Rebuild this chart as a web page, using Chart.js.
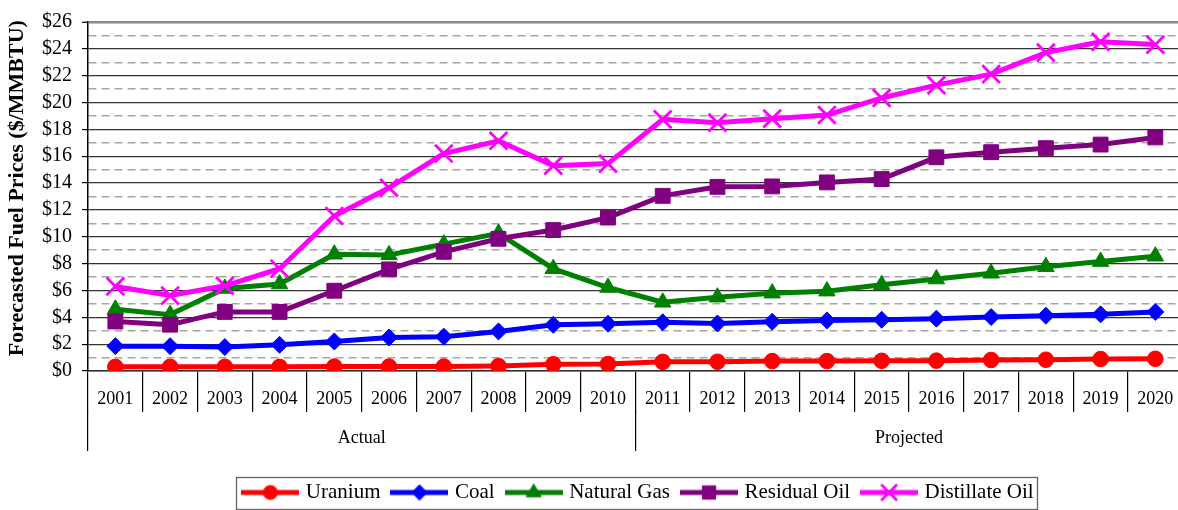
<!DOCTYPE html>
<html><head><meta charset="utf-8">
<script src="https://cdn.jsdelivr.net/npm/chart.js@4.4.1/dist/chart.umd.min.js"></script>
<style>html,body{margin:0;padding:0;overflow:hidden;background:#fff}#wrap{width:1198px;height:510px}</style>
</head><body><div id="wrap"><canvas id="c" width="1198" height="510"></canvas></div>
<script>
const years = ['2001','2002','2003','2004','2005','2006','2007','2008','2009','2010','2011','2012','2013','2014','2015','2016','2017','2018','2019','2020'];
const groups = ['Actual','Projected'];
const seriesNames = ['Uranium','Coal','Natural Gas','Residual Oil','Distillate Oil'];
const uranium = [0.31,0.31,0.31,0.31,0.33,0.33,0.33,0.37,0.50,0.52,0.68,0.69,0.74,0.74,0.76,0.77,0.82,0.84,0.89,0.91];
const coal = [1.85,1.85,1.78,1.95,2.20,2.50,2.56,2.95,3.44,3.52,3.63,3.54,3.67,3.77,3.82,3.90,4.02,4.12,4.22,4.40];
const naturalGas = [4.60,4.20,6.15,6.48,8.70,8.65,9.45,10.25,7.62,6.22,5.12,5.50,5.80,5.95,6.42,6.85,7.28,7.77,8.15,8.55];
const residualOil = [3.69,3.45,4.40,4.40,5.98,7.57,8.88,9.85,10.50,11.43,13.05,13.72,13.75,14.05,14.30,15.92,16.30,16.60,16.87,17.40];
const distillateOil = [6.30,5.62,6.35,7.62,11.55,13.65,16.20,17.15,15.30,15.45,18.75,18.50,18.80,19.07,20.34,21.30,22.12,23.72,24.52,24.32];
const yTitle = '   Forecasted Fuel Prices ($/MMBTU)';

const FONT = "'Liberation Serif','Times New Roman','DejaVu Serif',serif";
const colors = ['#FF0000','#0000FF','#008000','#800080','#FF00FF'];
const styles = ['circle','rectRot','triangle','rect','crossRot'];
const radii = [7.8,8.5,9.5,10.5,12.5];
const pbw = [1,1,1,1,2.8];
const values = [uranium, coal, naturalGas, residualOil, distillateOil];

function makeSwatch(i){
  const cv = document.createElement('canvas');
  cv.width = 58; cv.height = 26;
  const g = cv.getContext('2d');
  g.strokeStyle = colors[i]; g.fillStyle = colors[i];
  g.lineWidth = 5;
  g.beginPath(); g.moveTo(0,13); g.lineTo(58,13); g.stroke();
  g.lineWidth = pbw[i];
  if (Chart.helpers && Chart.helpers.drawPoint) {
    Chart.helpers.drawPoint(g, {pointStyle: styles[i], radius: radii[i]*0.9, borderWidth: pbw[i], rotation: 0}, 29, 13);
  }
  return cv;
}
const swatches = seriesNames.map((n,i)=>makeSwatch(i));

const datasets = seriesNames.map((name,i)=>({
  label: name,
  data: values[i],
  borderColor: colors[i],
  backgroundColor: colors[i],
  pointBackgroundColor: colors[i],
  pointBorderColor: colors[i],
  borderWidth: 5,
  pointStyle: styles[i],
  pointRadius: radii[i],
  pointBorderWidth: pbw[i],
  tension: 0,
  order: 4 - i,
  xAxisID: 'x', yAxisID: 'y'
}));

const SHIFT_X = 44, SHIFT_Y = 3;
const legendTweak = {
  id: 'legendTweak',
  afterUpdate(chart){
    const lg = chart.legend; if (!lg) return;
    lg.left += SHIFT_X; lg.right += SHIFT_X; lg.top += SHIFT_Y; lg.bottom += SHIFT_Y;
  },
  afterDraw(chart){
    const lg = chart.legend; if (!lg || !lg.lineWidths) return;
    const pad = lg.options.labels.padding;
    const content = lg.lineWidths[0] - pad;
    const left0 = (lg.left + pad + lg.right - lg.lineWidths[0]) / 2;
    const rowY = lg.top + pad;
    const ctx = chart.ctx;
    ctx.save();
    ctx.strokeStyle = '#666'; ctx.lineWidth = 1.3;
    ctx.strokeRect(Math.round(left0 - 9)+0.5, Math.round(rowY - 5)+0.5, Math.round(content + 13), Math.round(32));
    ctx.restore();
  }
};

new Chart(document.getElementById('c'), {
  type: 'line',
  data: { labels: years, datasets },
  plugins: [legendTweak],
  options: {
    responsive: false,
    animation: false,
    events: [],
    layout: { padding: { top: 16, right: 7, left: 0, bottom: 0 } },
    plugins: {
      tooltip: { enabled: false },
      legend: {
        position: 'bottom', align: 'center',
        labels: {
          usePointStyle: true, pointStyleWidth: 50, padding: 14,
          font: { family: FONT, size: 21 }, color: '#000',
          generateLabels: (chart) => chart.data.datasets.map((d,i)=>({
            text: d.label, pointStyle: swatches[i], fillStyle: d.backgroundColor,
            strokeStyle: d.borderColor, lineWidth: 0, hidden: false, datasetIndex: i, fontColor: '#000'
          }))
        }
      }
    },
    scales: {
      x: {
        type: 'category', position: 'bottom', offset: true, weight: 0,
        afterFit: s => { s.height = 40; },
        grid: { offset: true, drawOnChartArea: false, drawTicks: true, tickLength: 41, color: '#000', lineWidth: 1.2 },
        border: { display: true, color: '#333', width: 1.5 },
        ticks: { padding: -24, autoSkip: false, maxRotation: 0, font: { family: FONT, size: 18 }, color: '#000' }
      },
      x2: {
        type: 'category', labels: groups, position: 'bottom', offset: true, weight: 1, display: true,
        afterFit: s => { s.height = 54; },
        grid: { offset: true, drawOnChartArea: false, drawTicks: true, tickLength: 40, color: '#000', lineWidth: 1.2 },
        border: { display: false },
        ticks: { padding: -24, autoSkip: false, maxRotation: 0, font: { family: FONT, size: 18 }, color: '#000' }
      },
      y: {
        min: 0, max: 26,
        afterFit: s => { s.width = 88; },
        ticks: {
          stepSize: 1, autoSkip: false, padding: 10, color: '#000',
          font: { family: FONT, size: 20 },
          callback: v => (v % 2 === 0 ? '$' + v : '')
        },
        grid: {
          color: c => (c.tick && c.tick.value % 2) ? '#a6a6a6' : ((c.tick && c.tick.value === 26) ? '#888' : '#333'),
          lineWidth: c => (c.tick && c.tick.value === 26) ? 2.5 : ((c.tick && c.tick.value % 2) ? 1.4 : 1.2),
          tickLength: 6,
          tickColor: c => (c.tick && c.tick.value % 2) ? 'rgba(0,0,0,0)' : '#000',
          tickWidth: 1.2
        },
        border: { display: true, color: '#000', width: 1.5, dash: c => (c.tick && c.tick.value % 2) ? [8,5] : [] },
        title: { display: true, text: yTitle, color: '#000', font: { family: FONT, size: 22, weight: 'bold' }, padding: { top: 4, bottom: 0 } }
      }
    }
  }
});
</script></body></html>
